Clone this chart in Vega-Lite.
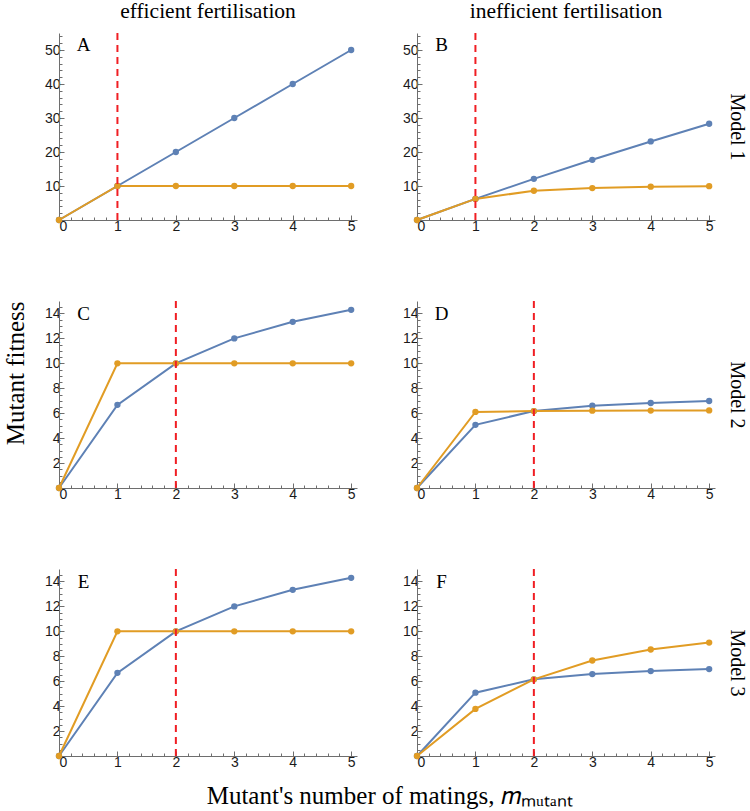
{
  "$schema": "https://vega.github.io/schema/vega-lite/v6.json",
  "padding": {"left": 3, "top": 0, "right": 0, "bottom": 0},
  "datasets": {
    "curves": [
      {"panel": "A", "curve": "curve 1", "m": 0, "fitness": 0},
      {"panel": "A", "curve": "curve 1", "m": 1, "fitness": 10},
      {"panel": "A", "curve": "curve 1", "m": 2, "fitness": 20},
      {"panel": "A", "curve": "curve 1", "m": 3, "fitness": 30},
      {"panel": "A", "curve": "curve 1", "m": 4, "fitness": 40},
      {"panel": "A", "curve": "curve 1", "m": 5, "fitness": 50},
      {"panel": "A", "curve": "curve 2", "m": 0, "fitness": 0},
      {"panel": "A", "curve": "curve 2", "m": 1, "fitness": 10},
      {"panel": "A", "curve": "curve 2", "m": 2, "fitness": 10},
      {"panel": "A", "curve": "curve 2", "m": 3, "fitness": 10},
      {"panel": "A", "curve": "curve 2", "m": 4, "fitness": 10},
      {"panel": "A", "curve": "curve 2", "m": 5, "fitness": 10},
      {"panel": "B", "curve": "curve 1", "m": 0, "fitness": 0},
      {"panel": "B", "curve": "curve 1", "m": 1, "fitness": 6.2},
      {"panel": "B", "curve": "curve 1", "m": 2, "fitness": 12.1},
      {"panel": "B", "curve": "curve 1", "m": 3, "fitness": 17.7},
      {"panel": "B", "curve": "curve 1", "m": 4, "fitness": 23.1},
      {"panel": "B", "curve": "curve 1", "m": 5, "fitness": 28.3},
      {"panel": "B", "curve": "curve 2", "m": 0, "fitness": 0},
      {"panel": "B", "curve": "curve 2", "m": 1, "fitness": 6.2},
      {"panel": "B", "curve": "curve 2", "m": 2, "fitness": 8.6},
      {"panel": "B", "curve": "curve 2", "m": 3, "fitness": 9.4},
      {"panel": "B", "curve": "curve 2", "m": 4, "fitness": 9.8},
      {"panel": "B", "curve": "curve 2", "m": 5, "fitness": 9.95},
      {"panel": "C", "curve": "curve 1", "m": 0, "fitness": 0},
      {"panel": "C", "curve": "curve 1", "m": 1, "fitness": 6.67},
      {"panel": "C", "curve": "curve 1", "m": 2, "fitness": 10},
      {"panel": "C", "curve": "curve 1", "m": 3, "fitness": 12},
      {"panel": "C", "curve": "curve 1", "m": 4, "fitness": 13.33},
      {"panel": "C", "curve": "curve 1", "m": 5, "fitness": 14.29},
      {"panel": "C", "curve": "curve 2", "m": 0, "fitness": 0},
      {"panel": "C", "curve": "curve 2", "m": 1, "fitness": 10},
      {"panel": "C", "curve": "curve 2", "m": 2, "fitness": 10},
      {"panel": "C", "curve": "curve 2", "m": 3, "fitness": 10},
      {"panel": "C", "curve": "curve 2", "m": 4, "fitness": 10},
      {"panel": "C", "curve": "curve 2", "m": 5, "fitness": 10},
      {"panel": "D", "curve": "curve 1", "m": 0, "fitness": 0},
      {"panel": "D", "curve": "curve 1", "m": 1, "fitness": 5.07},
      {"panel": "D", "curve": "curve 1", "m": 2, "fitness": 6.17},
      {"panel": "D", "curve": "curve 1", "m": 3, "fitness": 6.6},
      {"panel": "D", "curve": "curve 1", "m": 4, "fitness": 6.82},
      {"panel": "D", "curve": "curve 1", "m": 5, "fitness": 6.98},
      {"panel": "D", "curve": "curve 2", "m": 0, "fitness": 0},
      {"panel": "D", "curve": "curve 2", "m": 1, "fitness": 6.1},
      {"panel": "D", "curve": "curve 2", "m": 2, "fitness": 6.17},
      {"panel": "D", "curve": "curve 2", "m": 3, "fitness": 6.2},
      {"panel": "D", "curve": "curve 2", "m": 4, "fitness": 6.21},
      {"panel": "D", "curve": "curve 2", "m": 5, "fitness": 6.22},
      {"panel": "E", "curve": "curve 1", "m": 0, "fitness": 0},
      {"panel": "E", "curve": "curve 1", "m": 1, "fitness": 6.67},
      {"panel": "E", "curve": "curve 1", "m": 2, "fitness": 10},
      {"panel": "E", "curve": "curve 1", "m": 3, "fitness": 12},
      {"panel": "E", "curve": "curve 1", "m": 4, "fitness": 13.33},
      {"panel": "E", "curve": "curve 1", "m": 5, "fitness": 14.29},
      {"panel": "E", "curve": "curve 2", "m": 0, "fitness": 0},
      {"panel": "E", "curve": "curve 2", "m": 1, "fitness": 10},
      {"panel": "E", "curve": "curve 2", "m": 2, "fitness": 10},
      {"panel": "E", "curve": "curve 2", "m": 3, "fitness": 10},
      {"panel": "E", "curve": "curve 2", "m": 4, "fitness": 10},
      {"panel": "E", "curve": "curve 2", "m": 5, "fitness": 10},
      {"panel": "F", "curve": "curve 1", "m": 0, "fitness": 0},
      {"panel": "F", "curve": "curve 1", "m": 1, "fitness": 5.08},
      {"panel": "F", "curve": "curve 1", "m": 2, "fitness": 6.15},
      {"panel": "F", "curve": "curve 1", "m": 3, "fitness": 6.57},
      {"panel": "F", "curve": "curve 1", "m": 4, "fitness": 6.81},
      {"panel": "F", "curve": "curve 1", "m": 5, "fitness": 6.97},
      {"panel": "F", "curve": "curve 2", "m": 0, "fitness": 0},
      {"panel": "F", "curve": "curve 2", "m": 1, "fitness": 3.78},
      {"panel": "F", "curve": "curve 2", "m": 2, "fitness": 6.15},
      {"panel": "F", "curve": "curve 2", "m": 3, "fitness": 7.66},
      {"panel": "F", "curve": "curve 2", "m": 4, "fitness": 8.54},
      {"panel": "F", "curve": "curve 2", "m": 5, "fitness": 9.1}
    ],
    "panels": [
      {"panel": "A", "model": "Model 1", "fertilisation": "efficient fertilisation", "threshold": 1},
      {"panel": "B", "model": "Model 1", "fertilisation": "inefficient fertilisation", "threshold": 1},
      {"panel": "C", "model": "Model 2", "fertilisation": "efficient fertilisation", "threshold": 2},
      {"panel": "D", "model": "Model 2", "fertilisation": "inefficient fertilisation", "threshold": 2},
      {"panel": "E", "model": "Model 3", "fertilisation": "efficient fertilisation", "threshold": 2},
      {"panel": "F", "model": "Model 3", "fertilisation": "inefficient fertilisation", "threshold": 2}
    ]
  },
  "title": {
    "text": "Mutant's number of matings, 𝑚ₘᵤₜₐₙₜ",
    "orient": "bottom",
    "anchor": "middle",
    "font": "Liberation Serif",
    "fontSize": 25,
    "fontWeight": "normal",
    "color": "#000",
    "offset": 15,
    "dx": 15
  },
  "columns": 2,
  "bounds": "flush",
  "spacing": {"row": 81, "column": 60},
  "concat": [
    {
      "width": 298, "height": 187,
      "title": {"text": "efficient fertilisation", "orient": "top", "anchor": "middle", "offset": 10, "font": "Liberation Serif", "fontSize": 21.5, "fontWeight": "normal", "color": "#000"},
      "layer": [
        {
          "data": {"name": "curves"},
          "transform": [{"filter": "datum.panel === 'A'"}],
          "mark": {"type": "line", "strokeWidth": 2},
          "encoding": {
            "x": {"field": "m", "type": "quantitative", "scale": {"domain": [0, 5.1], "nice": false}, "axis": {"orient": "bottom", "values": [0, 1, 2, 3, 4, 5], "title": null}},
            "y": {"field": "fitness", "type": "quantitative", "scale": {"domain": [0, 55], "nice": false}, "axis": {"orient": "left", "values": [10, 20, 30, 40, 50], "title": null}},
            "color": {"field": "curve", "type": "nominal", "scale": {"domain": ["curve 1", "curve 2"], "range": ["#5e81b5", "#e19c24"]}, "legend": null}
          }
        },
        {
          "data": {"name": "curves"},
          "transform": [{"filter": "datum.panel === 'A'"}],
          "mark": {"type": "circle", "size": 40, "opacity": 1},
          "encoding": {
            "x": {"field": "m", "type": "quantitative", "axis": null},
            "y": {"field": "fitness", "type": "quantitative", "axis": null},
            "color": {"field": "curve", "type": "nominal", "legend": null}
          }
        },
        {
          "data": {"name": "panels"},
          "transform": [{"filter": "datum.panel === 'A'"}],
          "mark": {"type": "rule", "color": "#f01e23", "strokeWidth": 2, "strokeDash": [7, 5]},
          "encoding": {
            "x": {"field": "threshold", "type": "quantitative", "axis": {"orient": "bottom", "values": [0.2, 0.4, 0.6, 0.8, 1.2, 1.4, 1.6, 1.8, 2.2, 2.4, 2.6, 2.8, 3.2, 3.4, 3.6, 3.8, 4.2, 4.4, 4.6, 4.8], "labels": false, "domain": false, "tickSize": -3, "title": null}}
          }
        },
        {
          "data": {"name": "panels"},
          "transform": [{"filter": "datum.panel === 'A'"}],
          "mark": {"type": "text", "font": "Liberation Serif", "fontSize": 19, "align": "center", "baseline": "middle"},
          "encoding": {
            "x": {"datum": 0.42, "type": "quantitative", "axis": null},
            "y": {"datum": 51.5, "type": "quantitative", "axis": {"orient": "left", "values": [2, 4, 6, 8, 12, 14, 16, 18, 22, 24, 26, 28, 32, 34, 36, 38, 42, 44, 46, 48, 52, 54], "labels": false, "domain": false, "tickSize": -3, "title": null}},
            "text": {"field": "panel"}
          }
        }
      ],
      "resolve": {"axis": {"x": "independent", "y": "independent"}}
    },
    {
      "width": 298, "height": 187,
      "title": {"text": "inefficient fertilisation", "orient": "top", "anchor": "middle", "offset": 10, "font": "Liberation Serif", "fontSize": 21.5, "fontWeight": "normal", "color": "#000"},
      "layer": [
        {
          "data": {"name": "curves"},
          "transform": [{"filter": "datum.panel === 'B'"}],
          "mark": {"type": "line", "strokeWidth": 2},
          "encoding": {
            "x": {"field": "m", "type": "quantitative", "scale": {"domain": [0, 5.1], "nice": false}, "axis": {"orient": "bottom", "values": [0, 1, 2, 3, 4, 5], "title": null}},
            "y": {"field": "fitness", "type": "quantitative", "scale": {"domain": [0, 55], "nice": false}, "axis": {"orient": "left", "values": [10, 20, 30, 40, 50], "title": null}},
            "color": {"field": "curve", "type": "nominal", "scale": {"domain": ["curve 1", "curve 2"], "range": ["#5e81b5", "#e19c24"]}, "legend": null}
          }
        },
        {
          "data": {"name": "curves"},
          "transform": [{"filter": "datum.panel === 'B'"}],
          "mark": {"type": "circle", "size": 40, "opacity": 1},
          "encoding": {
            "x": {"field": "m", "type": "quantitative", "axis": null},
            "y": {"field": "fitness", "type": "quantitative", "axis": {"orient": "right", "domain": false, "ticks": false, "labels": false, "title": "Model 1", "titleFont": "Liberation Serif", "titleFontSize": 20, "titleFontWeight": "normal", "titleAngle": 90, "titleBaseline": "bottom", "titlePadding": 11}},
            "color": {"field": "curve", "type": "nominal", "legend": null}
          }
        },
        {
          "data": {"name": "panels"},
          "transform": [{"filter": "datum.panel === 'B'"}],
          "mark": {"type": "rule", "color": "#f01e23", "strokeWidth": 2, "strokeDash": [7, 5]},
          "encoding": {
            "x": {"field": "threshold", "type": "quantitative", "axis": {"orient": "bottom", "values": [0.2, 0.4, 0.6, 0.8, 1.2, 1.4, 1.6, 1.8, 2.2, 2.4, 2.6, 2.8, 3.2, 3.4, 3.6, 3.8, 4.2, 4.4, 4.6, 4.8], "labels": false, "domain": false, "tickSize": -3, "title": null}}
          }
        },
        {
          "data": {"name": "panels"},
          "transform": [{"filter": "datum.panel === 'B'"}],
          "mark": {"type": "text", "font": "Liberation Serif", "fontSize": 19, "align": "center", "baseline": "middle"},
          "encoding": {
            "x": {"datum": 0.42, "type": "quantitative", "axis": null},
            "y": {"datum": 51.5, "type": "quantitative", "axis": {"orient": "left", "values": [2, 4, 6, 8, 12, 14, 16, 18, 22, 24, 26, 28, 32, 34, 36, 38, 42, 44, 46, 48, 52, 54], "labels": false, "domain": false, "tickSize": -3, "title": null}},
            "text": {"field": "panel"}
          }
        }
      ],
      "resolve": {"axis": {"x": "independent", "y": "independent"}}
    },
    {
      "width": 298, "height": 187,
      "layer": [
        {
          "data": {"name": "curves"},
          "transform": [{"filter": "datum.panel === 'C'"}],
          "mark": {"type": "line", "strokeWidth": 2},
          "encoding": {
            "x": {"field": "m", "type": "quantitative", "scale": {"domain": [0, 5.1], "nice": false}, "axis": {"orient": "bottom", "values": [0, 1, 2, 3, 4, 5], "title": null}},
            "y": {"field": "fitness", "type": "quantitative", "scale": {"domain": [0, 15], "nice": false}, "axis": {"orient": "left", "values": [2, 4, 6, 8, 10, 12, 14], "title": "Mutant fitness", "titleFont": "Liberation Serif", "titleFontSize": 25, "titleFontWeight": "normal", "titleColor": "#000", "titleAnchor": "end", "titlePadding": 16}},
            "color": {"field": "curve", "type": "nominal", "scale": {"domain": ["curve 1", "curve 2"], "range": ["#5e81b5", "#e19c24"]}, "legend": null}
          }
        },
        {
          "data": {"name": "curves"},
          "transform": [{"filter": "datum.panel === 'C'"}],
          "mark": {"type": "circle", "size": 40, "opacity": 1},
          "encoding": {
            "x": {"field": "m", "type": "quantitative", "axis": null},
            "y": {"field": "fitness", "type": "quantitative", "axis": null},
            "color": {"field": "curve", "type": "nominal", "legend": null}
          }
        },
        {
          "data": {"name": "panels"},
          "transform": [{"filter": "datum.panel === 'C'"}],
          "mark": {"type": "rule", "color": "#f01e23", "strokeWidth": 2, "strokeDash": [7, 5]},
          "encoding": {
            "x": {"field": "threshold", "type": "quantitative", "axis": {"orient": "bottom", "values": [0.2, 0.4, 0.6, 0.8, 1.2, 1.4, 1.6, 1.8, 2.2, 2.4, 2.6, 2.8, 3.2, 3.4, 3.6, 3.8, 4.2, 4.4, 4.6, 4.8], "labels": false, "domain": false, "tickSize": -3, "title": null}}
          }
        },
        {
          "data": {"name": "panels"},
          "transform": [{"filter": "datum.panel === 'C'"}],
          "mark": {"type": "text", "font": "Liberation Serif", "fontSize": 19, "align": "center", "baseline": "middle"},
          "encoding": {
            "x": {"datum": 0.42, "type": "quantitative", "axis": null},
            "y": {"datum": 13.95, "type": "quantitative", "axis": {"orient": "left", "values": [0.5, 1, 1.5, 2.5, 3, 3.5, 4.5, 5, 5.5, 6.5, 7, 7.5, 8.5, 9, 9.5, 10.5, 11, 11.5, 12.5, 13, 13.5, 14.5], "labels": false, "domain": false, "tickSize": -3, "title": null}},
            "text": {"field": "panel"}
          }
        }
      ],
      "resolve": {"axis": {"x": "independent", "y": "independent"}}
    },
    {
      "width": 298, "height": 187,
      "layer": [
        {
          "data": {"name": "curves"},
          "transform": [{"filter": "datum.panel === 'D'"}],
          "mark": {"type": "line", "strokeWidth": 2},
          "encoding": {
            "x": {"field": "m", "type": "quantitative", "scale": {"domain": [0, 5.1], "nice": false}, "axis": {"orient": "bottom", "values": [0, 1, 2, 3, 4, 5], "title": null}},
            "y": {"field": "fitness", "type": "quantitative", "scale": {"domain": [0, 15], "nice": false}, "axis": {"orient": "left", "values": [2, 4, 6, 8, 10, 12, 14], "title": null}},
            "color": {"field": "curve", "type": "nominal", "scale": {"domain": ["curve 1", "curve 2"], "range": ["#5e81b5", "#e19c24"]}, "legend": null}
          }
        },
        {
          "data": {"name": "curves"},
          "transform": [{"filter": "datum.panel === 'D'"}],
          "mark": {"type": "circle", "size": 40, "opacity": 1},
          "encoding": {
            "x": {"field": "m", "type": "quantitative", "axis": null},
            "y": {"field": "fitness", "type": "quantitative", "axis": {"orient": "right", "domain": false, "ticks": false, "labels": false, "title": "Model 2", "titleFont": "Liberation Serif", "titleFontSize": 20, "titleFontWeight": "normal", "titleAngle": 90, "titleBaseline": "bottom", "titlePadding": 11}},
            "color": {"field": "curve", "type": "nominal", "legend": null}
          }
        },
        {
          "data": {"name": "panels"},
          "transform": [{"filter": "datum.panel === 'D'"}],
          "mark": {"type": "rule", "color": "#f01e23", "strokeWidth": 2, "strokeDash": [7, 5]},
          "encoding": {
            "x": {"field": "threshold", "type": "quantitative", "axis": {"orient": "bottom", "values": [0.2, 0.4, 0.6, 0.8, 1.2, 1.4, 1.6, 1.8, 2.2, 2.4, 2.6, 2.8, 3.2, 3.4, 3.6, 3.8, 4.2, 4.4, 4.6, 4.8], "labels": false, "domain": false, "tickSize": -3, "title": null}}
          }
        },
        {
          "data": {"name": "panels"},
          "transform": [{"filter": "datum.panel === 'D'"}],
          "mark": {"type": "text", "font": "Liberation Serif", "fontSize": 19, "align": "center", "baseline": "middle"},
          "encoding": {
            "x": {"datum": 0.42, "type": "quantitative", "axis": null},
            "y": {"datum": 13.95, "type": "quantitative", "axis": {"orient": "left", "values": [0.5, 1, 1.5, 2.5, 3, 3.5, 4.5, 5, 5.5, 6.5, 7, 7.5, 8.5, 9, 9.5, 10.5, 11, 11.5, 12.5, 13, 13.5, 14.5], "labels": false, "domain": false, "tickSize": -3, "title": null}},
            "text": {"field": "panel"}
          }
        }
      ],
      "resolve": {"axis": {"x": "independent", "y": "independent"}}
    },
    {
      "width": 298, "height": 187,
      "layer": [
        {
          "data": {"name": "curves"},
          "transform": [{"filter": "datum.panel === 'E'"}],
          "mark": {"type": "line", "strokeWidth": 2},
          "encoding": {
            "x": {"field": "m", "type": "quantitative", "scale": {"domain": [0, 5.1], "nice": false}, "axis": {"orient": "bottom", "values": [0, 1, 2, 3, 4, 5], "title": null}},
            "y": {"field": "fitness", "type": "quantitative", "scale": {"domain": [0, 15], "nice": false}, "axis": {"orient": "left", "values": [2, 4, 6, 8, 10, 12, 14], "title": null}},
            "color": {"field": "curve", "type": "nominal", "scale": {"domain": ["curve 1", "curve 2"], "range": ["#5e81b5", "#e19c24"]}, "legend": null}
          }
        },
        {
          "data": {"name": "curves"},
          "transform": [{"filter": "datum.panel === 'E'"}],
          "mark": {"type": "circle", "size": 40, "opacity": 1},
          "encoding": {
            "x": {"field": "m", "type": "quantitative", "axis": null},
            "y": {"field": "fitness", "type": "quantitative", "axis": null},
            "color": {"field": "curve", "type": "nominal", "legend": null}
          }
        },
        {
          "data": {"name": "panels"},
          "transform": [{"filter": "datum.panel === 'E'"}],
          "mark": {"type": "rule", "color": "#f01e23", "strokeWidth": 2, "strokeDash": [7, 5]},
          "encoding": {
            "x": {"field": "threshold", "type": "quantitative", "axis": {"orient": "bottom", "values": [0.2, 0.4, 0.6, 0.8, 1.2, 1.4, 1.6, 1.8, 2.2, 2.4, 2.6, 2.8, 3.2, 3.4, 3.6, 3.8, 4.2, 4.4, 4.6, 4.8], "labels": false, "domain": false, "tickSize": -3, "title": null}}
          }
        },
        {
          "data": {"name": "panels"},
          "transform": [{"filter": "datum.panel === 'E'"}],
          "mark": {"type": "text", "font": "Liberation Serif", "fontSize": 19, "align": "center", "baseline": "middle"},
          "encoding": {
            "x": {"datum": 0.42, "type": "quantitative", "axis": null},
            "y": {"datum": 13.95, "type": "quantitative", "axis": {"orient": "left", "values": [0.5, 1, 1.5, 2.5, 3, 3.5, 4.5, 5, 5.5, 6.5, 7, 7.5, 8.5, 9, 9.5, 10.5, 11, 11.5, 12.5, 13, 13.5, 14.5], "labels": false, "domain": false, "tickSize": -3, "title": null}},
            "text": {"field": "panel"}
          }
        }
      ],
      "resolve": {"axis": {"x": "independent", "y": "independent"}}
    },
    {
      "width": 298, "height": 187,
      "layer": [
        {
          "data": {"name": "curves"},
          "transform": [{"filter": "datum.panel === 'F'"}],
          "mark": {"type": "line", "strokeWidth": 2},
          "encoding": {
            "x": {"field": "m", "type": "quantitative", "scale": {"domain": [0, 5.1], "nice": false}, "axis": {"orient": "bottom", "values": [0, 1, 2, 3, 4, 5], "title": null}},
            "y": {"field": "fitness", "type": "quantitative", "scale": {"domain": [0, 15], "nice": false}, "axis": {"orient": "left", "values": [2, 4, 6, 8, 10, 12, 14], "title": null}},
            "color": {"field": "curve", "type": "nominal", "scale": {"domain": ["curve 1", "curve 2"], "range": ["#5e81b5", "#e19c24"]}, "legend": null}
          }
        },
        {
          "data": {"name": "curves"},
          "transform": [{"filter": "datum.panel === 'F'"}],
          "mark": {"type": "circle", "size": 40, "opacity": 1},
          "encoding": {
            "x": {"field": "m", "type": "quantitative", "axis": null},
            "y": {"field": "fitness", "type": "quantitative", "axis": {"orient": "right", "domain": false, "ticks": false, "labels": false, "title": "Model 3", "titleFont": "Liberation Serif", "titleFontSize": 20, "titleFontWeight": "normal", "titleAngle": 90, "titleBaseline": "bottom", "titlePadding": 11}},
            "color": {"field": "curve", "type": "nominal", "legend": null}
          }
        },
        {
          "data": {"name": "panels"},
          "transform": [{"filter": "datum.panel === 'F'"}],
          "mark": {"type": "rule", "color": "#f01e23", "strokeWidth": 2, "strokeDash": [7, 5]},
          "encoding": {
            "x": {"field": "threshold", "type": "quantitative", "axis": {"orient": "bottom", "values": [0.2, 0.4, 0.6, 0.8, 1.2, 1.4, 1.6, 1.8, 2.2, 2.4, 2.6, 2.8, 3.2, 3.4, 3.6, 3.8, 4.2, 4.4, 4.6, 4.8], "labels": false, "domain": false, "tickSize": -3, "title": null}}
          }
        },
        {
          "data": {"name": "panels"},
          "transform": [{"filter": "datum.panel === 'F'"}],
          "mark": {"type": "text", "font": "Liberation Serif", "fontSize": 19, "align": "center", "baseline": "middle"},
          "encoding": {
            "x": {"datum": 0.42, "type": "quantitative", "axis": null},
            "y": {"datum": 13.95, "type": "quantitative", "axis": {"orient": "left", "values": [0.5, 1, 1.5, 2.5, 3, 3.5, 4.5, 5, 5.5, 6.5, 7, 7.5, 8.5, 9, 9.5, 10.5, 11, 11.5, 12.5, 13, 13.5, 14.5], "labels": false, "domain": false, "tickSize": -3, "title": null}},
            "text": {"field": "panel"}
          }
        }
      ],
      "resolve": {"axis": {"x": "independent", "y": "independent"}}
    }
  ],
  "config": {
    "view": {"stroke": null},
    "axis": {
      "grid": false,
      "labelFont": "Liberation Sans",
      "labelFontSize": 14,
      "labelColor": "#1a1a1a",
      "labelPadding": 4,
      "domainColor": "#6e6e6e",
      "tickColor": "#6e6e6e",
      "tickSize": -5,
      "titleColor": "#000"
    }
  }
}
